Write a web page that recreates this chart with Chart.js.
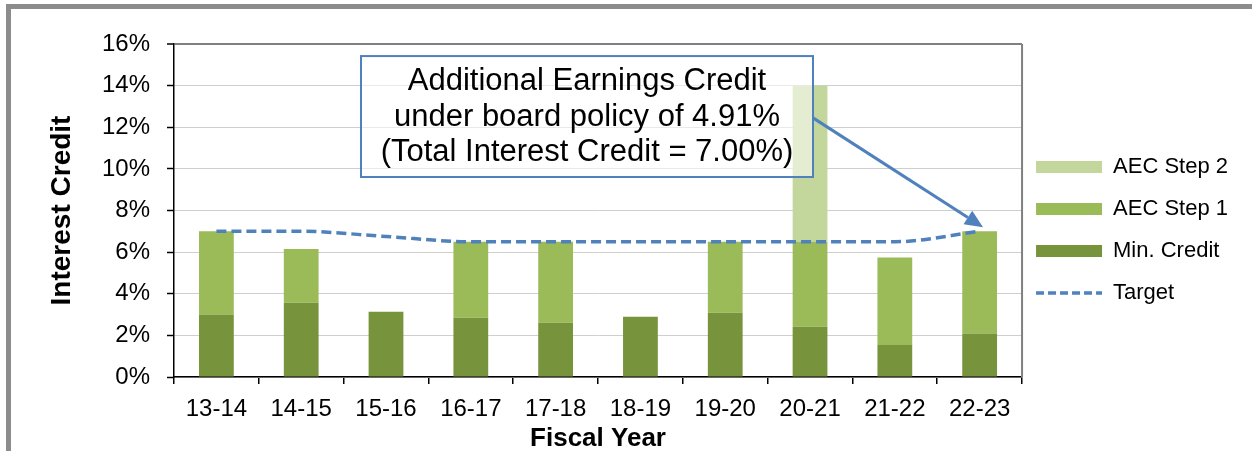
<!DOCTYPE html>
<html>
<head>
<meta charset="utf-8">
<script src="https://cdn.jsdelivr.net/npm/chart.js@4.4.1/dist/chart.umd.min.js"></script>
<style>
html, body { margin: 0; padding: 0; background: #fff; }
#wrap { width: 1252px; height: 451px; position: relative; }
</style>
</head>
<body>
<div id="wrap"><canvas id="credit-chart"></canvas></div>
<script>
// values (percent)
const fiscalYears = ['13-14', '14-15', '15-16', '16-17', '17-18', '18-19', '19-20', '20-21', '21-22', '22-23'];
const minCredit = [3.0, 3.57, 3.14, 2.85, 2.61, 2.9, 3.09, 2.42, 1.54, 2.09];
const aecStep1 = [4.0, 2.58, 0, 3.65, 3.89, 0, 3.41, 4.08, 4.2, 4.91];
const aecStep2 = [0, 0, 0, 0, 0, 0, 0, 7.5, 0, 0];
const target = [7.0, 7.0, 6.75, 6.5, 6.5, 6.5, 6.5, 6.5, 6.5, 7.0];
const yMax = 16, yStep = 2;

const calloutLines = ['Additional Earnings Credit', 'under board policy of 4.91%', '(Total Interest Credit = 7.00%)'];
// callout anchored in data space: category index / percent
const calloutBox = { fromIndex: 1.705, toIndex: 7.035, top: 15.42, bottom: 9.61 };
const arrowFrom = { index: 7.035, value: 12.45 };
const arrowTo = { index: 9.04, value: 7.2 };

const FONT = '"Liberation Sans", Arial, sans-serif';
const legendRank = [2, 1, 0, 3];

// grey frame round the picture
const framePlugin = {
	id: 'frame',
	beforeDraw(chart) {
		const ctx = chart.ctx;
		ctx.save();
		ctx.fillStyle = '#fff';
		ctx.fillRect(0, 0, chart.width, chart.height);
		ctx.fillStyle = '#8c8c8c';
		ctx.fillRect(6, 4, chart.width - 6, 5);
		ctx.fillRect(6, 4, 5, chart.height - 4);
		ctx.restore();
	}
};

// pull the legend a little closer to the plot
const legendNudge = {
	id: 'legendNudge',
	afterLayout(chart) {
		if (chart.legend) {
			chart.legend.left -= 6;
			chart.legend.right -= 6;
		}
	}
};

// right edge of the plot area
const plotBorder = {
	id: 'plotBorder',
	beforeDatasetsDraw(chart) {
		const {ctx, chartArea} = chart;
		ctx.save();
		ctx.strokeStyle = '#808080';
		ctx.lineWidth = 2;
		ctx.beginPath();
		ctx.moveTo(chartArea.right, chartArea.top);
		ctx.lineTo(chartArea.right, chartArea.bottom);
		ctx.stroke();
		ctx.restore();
	}
};

const callout = {
	id: 'callout',
	afterDatasetsDraw(chart) {
		const ctx = chart.ctx;
		const x = chart.scales.x, y = chart.scales.y;
		const left = x.getPixelForValue(calloutBox.fromIndex);
		const right = x.getPixelForValue(calloutBox.toIndex);
		const top = y.getPixelForValue(calloutBox.top);
		const bottom = y.getPixelForValue(calloutBox.bottom);
		ctx.save();
		ctx.fillStyle = 'rgba(255,255,255,0.55)';
		ctx.fillRect(left, top, right - left, bottom - top);
		ctx.strokeStyle = '#4F81BD';
		ctx.lineWidth = 2;
		ctx.strokeRect(left, top, right - left, bottom - top);

		ctx.fillStyle = '#000';
		ctx.font = '31px ' + FONT;
		ctx.textAlign = 'center';
		ctx.textBaseline = 'alphabetic';
		const cx = (left + right) / 2;
		calloutLines.forEach((line, i) => {
			ctx.fillText(line, cx, top + 34 + i * 35.5);
		});

		// arrow to the 22-23 bar
		const x0 = x.getPixelForValue(arrowFrom.index), y0 = y.getPixelForValue(arrowFrom.value);
		const x1 = x.getPixelForValue(arrowTo.index), y1 = y.getPixelForValue(arrowTo.value);
		const ang = Math.atan2(y1 - y0, x1 - x0);
		const headLen = 18, headHalf = 8;
		ctx.strokeStyle = '#4F81BD';
		ctx.lineWidth = 3;
		ctx.beginPath();
		ctx.moveTo(x0, y0);
		ctx.lineTo(x1 - Math.cos(ang) * headLen, y1 - Math.sin(ang) * headLen);
		ctx.stroke();
		ctx.fillStyle = '#4F81BD';
		ctx.beginPath();
		ctx.moveTo(x1, y1);
		ctx.lineTo(x1 - Math.cos(ang) * headLen - Math.sin(ang) * headHalf, y1 - Math.sin(ang) * headLen + Math.cos(ang) * headHalf);
		ctx.lineTo(x1 - Math.cos(ang) * headLen + Math.sin(ang) * headHalf, y1 - Math.sin(ang) * headLen - Math.cos(ang) * headHalf);
		ctx.closePath();
		ctx.fill();
		ctx.restore();
	}
};

new Chart(document.getElementById('credit-chart'), {
	type: 'bar',
	data: {
		labels: fiscalYears,
		datasets: [
			{ label: 'Min. Credit', data: minCredit, backgroundColor: '#77933C', stack: 'credit' },
			{ label: 'AEC Step 1', data: aecStep1, backgroundColor: '#9BBB59', stack: 'credit' },
			{ label: 'AEC Step 2', data: aecStep2, backgroundColor: '#C3D69B', stack: 'credit' },
			{
				type: 'line', label: 'Target', data: target, stack: 'target', order: -1,
				borderColor: '#4F81BD', backgroundColor: '#4F81BD', borderWidth: 3.5,
				borderDash: [10, 5], pointRadius: 0, fill: false,
				cubicInterpolationMode: 'monotone'
			}
		]
	},
	options: {
		responsive: true,
		maintainAspectRatio: false,
		animation: false,
		barPercentage: 0.41,
		categoryPercentage: 1,
		layout: { padding: { left: 12, top: 9, right: 8, bottom: 0 } },
		plugins: {
			tooltip: { enabled: false },
			title: { display: true, text: '', fullSize: false, font: { size: 10, lineHeight: 1 }, padding: { top: 25, bottom: 0 } },
			legend: {
				position: 'right',
				labels: {
					usePointStyle: true,
					pointStyleWidth: 66,
					boxHeight: 12,
					padding: 20,
					color: '#000',
					font: { family: FONT, size: 22 },
					generateLabels(chart) {
						const items = Chart.defaults.plugins.legend.labels.generateLabels(chart);
						items.forEach(item => {
							const ds = chart.data.datasets[item.datasetIndex];
							if (ds.type === 'line') {
								item.pointStyle = 'line';
								item.lineWidth = 3.5;
								item.strokeStyle = ds.borderColor;
								item.lineDash = [8, 4];
							} else {
								item.pointStyle = 'rect';
								item.lineWidth = 0;
							}
						});
						return items.sort((a, b) => legendRank[a.datasetIndex] - legendRank[b.datasetIndex]);
					}
				}
			}
		},
		scales: {
			x: {
				stacked: true,
				offset: true,
				grid: { display: true, offset: true, drawOnChartArea: false, color: '#000', lineWidth: 1.5, tickLength: 7 },
				border: { color: '#000', width: 1.5 },
				ticks: { color: '#000', padding: 11, font: { family: FONT, size: 24 } },
				title: { display: true, text: 'Fiscal Year', color: '#000', font: { family: FONT, size: 26, weight: 'bold' }, padding: { top: 0, bottom: -3 } },
				afterFit(scale) { scale.height = 74; }
			},
			y: {
				stacked: true,
				min: 0,
				max: yMax,
				grid: {
					color: c => c.tick && c.tick.value === yMax ? '#808080' : '#cfcfcf',
					lineWidth: c => c.tick && c.tick.value === yMax ? 2 : 1,
					tickColor: '#000',
					tickWidth: 1.5,
					tickLength: 7
				},
				border: { color: '#000', width: 1.5 },
				ticks: {
					stepSize: yStep,
					color: '#000',
					padding: 17,
					font: { family: FONT, size: 24 },
					callback: v => v + '%'
				},
				title: { display: true, text: 'Interest Credit', color: '#000', font: { family: FONT, size: 28, weight: 'bold' }, padding: { top: 33, bottom: 0 } },
				afterFit(scale) { scale.width = 162; }
			}
		}
	},
	plugins: [framePlugin, legendNudge, plotBorder, callout]
});
</script>
</body>
</html>
